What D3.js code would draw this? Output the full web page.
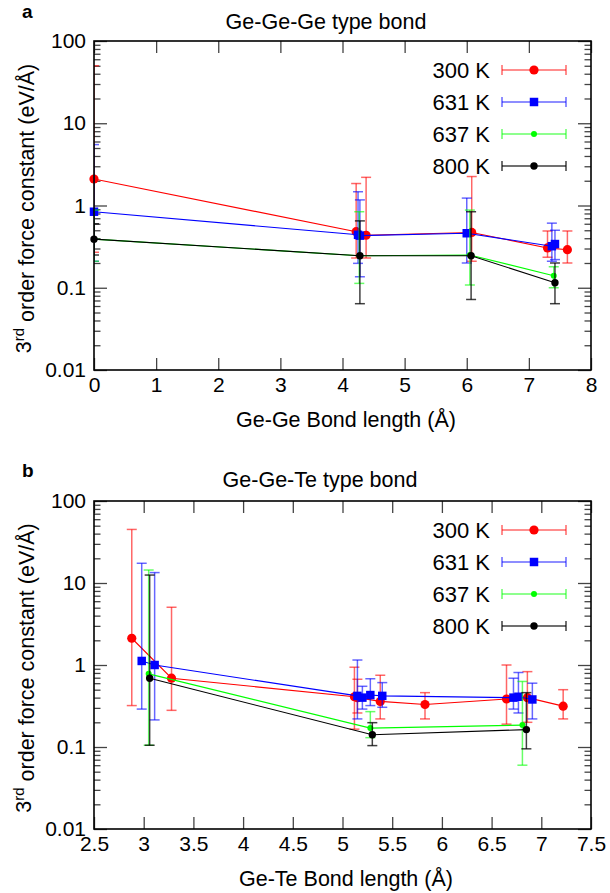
<!DOCTYPE html>
<html><head><meta charset="utf-8">
<script src="https://cdn.jsdelivr.net/npm/d3@7"></script>
<style>
body{margin:0;background:#fff}
svg{display:block}
text{font-family:"Liberation Sans",Arial,Helvetica,sans-serif;fill:#000}
</style>
</head><body>
<svg id="c" width="610" height="893"></svg>
<script>
// ---------- data ----------
const seriesLabels = ["300 K", "631 K", "637 K", "800 K"];
const seriesColors = ["#ff0000", "#0000ff", "#00ff00", "#000000"];
const seriesShapes = ["circle", "square", "smallcircle", "circle2"];

const yTickValues = [0.01, 0.1, 1, 10, 100];
const yTickLabels = ["0.01", "0.1", "1", "10", "100"];

// Panel a: Ge-Ge-Ge
const aTitle = "Ge-Ge-Ge type bond";
const aXLabel = "Ge-Ge Bond length (Å)";
const aXTicks = [0, 1, 2, 3, 4, 5, 6, 7, 8];
const aXTickLabels = ["0", "1", "2", "3", "4", "5", "6", "7", "8"];
const aX = [
  [0, 4.22, 4.38, 6.08, 7.3, 7.62],
  [0, 4.25, 4.28, 6.0, 7.37, 7.42],
  [0, 4.27, 6.05, 7.4],
  [0, 4.28, 6.07, 7.42]
];
const aY = [
  [2.1, 0.48, 0.435, 0.47, 0.305, 0.29],
  [0.84, 0.44, 0.43, 0.46, 0.32, 0.34],
  [0.39, 0.245, 0.25, 0.14],
  [0.39, 0.245, 0.245, 0.115]
];
const aHi = [
  [50, 1.85, 2.2, 2.25, 0.49, 0.49],
  [5.5, 1.47, 1.17, 1.23, 0.61, 0.5],
  [0.88, 0.84, 0.88, 0.18],
  [0.6, 0.65, 0.84, 0.2]
];
const aLo = [
  [0.27, 0.23, 0.23, 0.21, 0.235, 0.2],
  [0.21, 0.198, 0.136, 0.2, 0.21, 0.22],
  [0.21, 0.113, 0.108, 0.1],
  [0.25, 0.064, 0.072, 0.064]
];

// Panel b: Ge-Ge-Te
const bTitle = "Ge-Ge-Te type bond";
const bXLabel = "Ge-Te Bond length (Å)";
const bXTicks = [2.5, 3, 3.5, 4, 4.5, 5, 5.5, 6, 6.5, 7, 7.5];
const bXTickLabels = ["2.5", "3", "3.5", "4", "4.5", "5", "5.5", "6", "6.5", "7", "7.5"];
const bX = [
  [2.88, 3.28, 5.12, 5.15, 5.38, 5.83, 6.65, 6.86, 7.22],
  [2.98, 3.11, 5.15, 5.2, 5.28, 5.4, 6.72, 6.77, 6.91],
  [3.05, 5.28, 6.81],
  [3.06, 5.3, 6.85]
];
const bY = [
  [2.12, 0.69, 0.41, 0.40, 0.36, 0.33, 0.385, 0.40, 0.315],
  [1.12, 1.0, 0.42, 0.40, 0.43, 0.42, 0.40, 0.41, 0.38],
  [0.78, 0.17, 0.185],
  [0.69, 0.141, 0.163]
];
const bHi = [
  [45, 5.06, 0.94, 0.67, 0.75, 0.46, 1.0, 0.83, 0.5],
  [17.4, 13.4, 1.15, 0.55, 0.68, 0.61, 0.69, 0.81, 0.6],
  [14.4, 0.27, 0.63],
  [12.5, 0.198, 0.46]
];
const bLo = [
  [0.32, 0.28, 0.165, 0.26, 0.22, 0.22, 0.19, 0.2, 0.22],
  [0.29, 0.214, 0.22, 0.29, 0.32, 0.305, 0.29, 0.26, 0.22],
  [0.105, 0.13, 0.06],
  [0.105, 0.104, 0.095]
];

// ---------- drawing ----------
const svg = d3.select("#c");
const FS = 21;      // tick labels
const FT = 21.5;    // titles
const FL = 22;      // legend

function symbolFor(shape) {
  if (shape === "square") return d3.symbol().type(d3.symbolSquare).size(72)();
  if (shape === "circle") return d3.symbol().type(d3.symbolCircle).size(Math.PI * 4.6 * 4.6)();
  if (shape === "smallcircle") return d3.symbol().type(d3.symbolCircle).size(Math.PI * 3 * 3)();
  return d3.symbol().type(d3.symbolCircle).size(Math.PI * 3.7 * 3.7)();
}

function drawPanel(p) {
  const g = svg.append("g");
  const x = d3.scaleLinear().domain(p.xDomain).range([p.left, p.right]);
  const y = d3.scaleLog().domain([0.01, 100]).range([p.bottom, p.top]);

  const minor = [];
  for (let e = -2; e < 2; e++) for (let m = 2; m <= 9; m++) minor.push(m * Math.pow(10, e));

  const tickStyle = sel => {
    sel.select(".domain").remove();
    sel.selectAll(".tick line").attr("stroke", "#444").attr("stroke-width", 1.3);
    sel.selectAll(".tick text").style("font-size", FS + "px").attr("fill", "#000");
  };

  g.append("g").attr("transform", `translate(0,${p.bottom})`)
    .call(d3.axisBottom(x).tickValues(p.xTicks).tickFormat((d, i) => p.xTickLabels[i]).tickSize(-12).tickPadding(7))
    .call(tickStyle);
  g.append("g").attr("transform", `translate(0,${p.top})`)
    .call(d3.axisTop(x).tickValues(p.xTicks).tickFormat("").tickSize(-12))
    .call(tickStyle);
  g.append("g").attr("transform", `translate(${p.left},0)`)
    .call(d3.axisLeft(y).tickValues(yTickValues).tickFormat((d, i) => yTickLabels[i]).tickSize(-13).tickPadding(8))
    .call(tickStyle);
  g.append("g").attr("transform", `translate(${p.left},0)`)
    .call(d3.axisLeft(y).tickValues(minor).tickFormat("").tickSize(-6.5))
    .call(tickStyle);
  g.append("g").attr("transform", `translate(${p.right},0)`)
    .call(d3.axisRight(y).tickValues(yTickValues).tickFormat("").tickSize(-13))
    .call(tickStyle);
  g.append("g").attr("transform", `translate(${p.right},0)`)
    .call(d3.axisRight(y).tickValues(minor).tickFormat("").tickSize(-6.5))
    .call(tickStyle);

  const cid = "clip" + p.id;
  svg.append("clipPath").attr("id", cid).append("rect")
    .attr("x", p.left).attr("y", p.top).attr("width", p.right - p.left).attr("height", p.bottom - p.top);

  const capW = 5;
  p.X.forEach((xs, s) => {
    const col = seriesColors[s];
    const pts = xs.map((xv, i) => ({ x: xv, y: p.Y[s][i], hi: p.Hi[s][i], lo: p.Lo[s][i] }));
    const eb = g.append("g").attr("clip-path", `url(#${cid})`)
      .attr("stroke", col).attr("stroke-width", 1.5).attr("stroke-opacity", s === 3 ? 0.75 : 0.6).attr("fill", "none");
    pts.forEach(d => {
      const cx = x(d.x);
      eb.append("line").attr("x1", cx).attr("x2", cx).attr("y1", y(d.lo)).attr("y2", y(d.hi));
      eb.append("line").attr("x1", cx - capW).attr("x2", cx + capW).attr("y1", y(d.lo)).attr("y2", y(d.lo));
      eb.append("line").attr("x1", cx - capW).attr("x2", cx + capW).attr("y1", y(d.hi)).attr("y2", y(d.hi));
    });
    g.append("path").datum(pts).attr("clip-path", `url(#${cid})`)
      .attr("fill", "none").attr("stroke", col).attr("stroke-width", 1.1)
      .attr("d", d3.line().x(d => x(d.x)).y(d => y(d.y)));
    g.selectAll(null).data(pts).enter().append("path")
      .attr("transform", d => `translate(${x(d.x)},${y(d.y)})`)
      .attr("d", symbolFor(seriesShapes[s])).attr("fill", col);
  });

  g.append("rect").attr("x", p.left).attr("y", p.top).attr("width", p.right - p.left).attr("height", p.bottom - p.top)
    .attr("fill", "none").attr("stroke", "#000").attr("stroke-width", 1.6);

  seriesLabels.forEach((lab, s) => {
    const ly = p.legendTop + s * 32;
    const col = seriesColors[s];
    g.append("text").attr("x", p.legendText).attr("y", ly).attr("dy", "0.36em")
      .attr("text-anchor", "end").style("font-size", FL + "px").text(lab);
    const lg = g.append("g").attr("stroke", col).attr("stroke-width", 1.5).attr("stroke-opacity", s === 3 ? 0.75 : 0.6);
    lg.append("line").attr("x1", p.legendX1).attr("x2", p.legendX2).attr("y1", ly).attr("y2", ly);
    lg.append("line").attr("x1", p.legendX1).attr("x2", p.legendX1).attr("y1", ly - 5).attr("y2", ly + 5);
    lg.append("line").attr("x1", p.legendX2).attr("x2", p.legendX2).attr("y1", ly - 5).attr("y2", ly + 5);
    g.append("path").attr("transform", `translate(${(p.legendX1 + p.legendX2) / 2},${ly})`)
      .attr("d", symbolFor(seriesShapes[s])).attr("fill", col);
  });

  g.append("text").attr("x", p.titleX).attr("y", p.titleY).attr("text-anchor", "middle")
    .style("font-size", FT + "px").text(p.title);
  g.append("text").attr("x", p.xLabelX).attr("y", p.xLabelY).attr("text-anchor", "middle")
    .style("font-size", FT + "px").text(p.xLabel);
  const yt = g.append("text").attr("transform", `translate(${p.yLabelX},${(p.top + p.bottom) / 2 + 3}) rotate(-90)`)
    .attr("text-anchor", "middle").style("font-size", FT + "px");
  yt.append("tspan").text("3");
  yt.append("tspan").attr("dy", "-0.45em").style("font-size", "15px").text("rd");
  yt.append("tspan").attr("dy", "0.45em").text(" order force constant (eV/Å)");
  g.append("text").attr("x", p.letterX).attr("y", p.letterY).style("font-size", "19px")
    .style("font-weight", "bold").text(p.letter);
}

drawPanel({
  id: "a", letter: "a", letterX: 22, letterY: 18,
  left: 94, right: 591, top: 41, bottom: 370,
  xDomain: [0, 8], xTicks: aXTicks, xTickLabels: aXTickLabels,
  X: aX, Y: aY, Hi: aHi, Lo: aLo,
  title: aTitle, titleX: 326, titleY: 29, xLabel: aXLabel, xLabelX: 346, xLabelY: 427, yLabelX: 31,
  legendTop: 70, legendText: 490, legendX1: 502, legendX2: 566
});
drawPanel({
  id: "b", letter: "b", letterX: 22, letterY: 477,
  left: 94, right: 591, top: 501, bottom: 829,
  xDomain: [2.5, 7.5], xTicks: bXTicks, xTickLabels: bXTickLabels,
  X: bX, Y: bY, Hi: bHi, Lo: bLo,
  title: bTitle, titleX: 320, titleY: 487, xLabel: bXLabel, xLabelX: 346, xLabelY: 886, yLabelX: 31,
  legendTop: 530, legendText: 490, legendX1: 502, legendX2: 566
});
</script>
</body></html>
